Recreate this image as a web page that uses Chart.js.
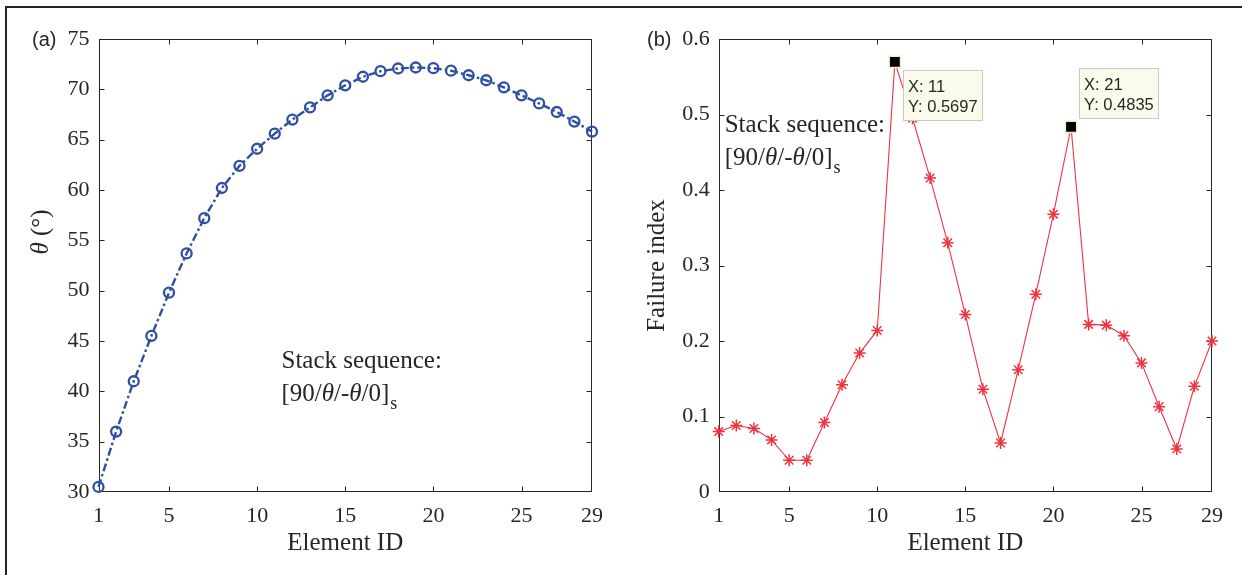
<!DOCTYPE html>
<html><head><meta charset="utf-8">
<script src="https://cdn.jsdelivr.net/npm/chart.js@4.4.1/dist/chart.umd.min.js"></script>
<style>
html,body{margin:0;padding:0;background:#fff;}
body{width:1242px;height:575px;position:relative;overflow:hidden;}
#frame{position:absolute;left:5px;top:6px;width:1300px;height:600px;border-top:2px solid #222;border-left:2px solid #222;}
canvas{position:absolute;top:0;}
#c1{left:0;} #c2{left:620px;}
</style></head><body>
<div id="frame"></div>
<canvas id="c1" width="621" height="575"></canvas>
<canvas id="c2" width="622" height="575"></canvas>
<script>
// ---------- data ----------
const elementIds = [1,2,3,4,5,6,7,8,9,10,11,12,13,14,15,16,17,18,19,20,21,22,23,24,25,26,27,28,29];
const thetaDeg = [30.5,36.0,41.0,45.5,49.8,53.7,57.2,60.2,62.4,64.1,65.6,67.0,68.2,69.4,70.4,71.25,71.8,72.07,72.17,72.1,71.85,71.4,70.9,70.2,69.4,68.6,67.75,66.8,65.8];
const failureIndex = [0.080,0.088,0.084,0.069,0.042,0.042,0.092,0.142,0.184,0.214,0.5697,0.495,0.416,0.330,0.235,0.136,0.065,0.162,0.262,0.368,0.4835,0.222,0.221,0.207,0.171,0.113,0.057,0.140,0.200];
const xTickValues = [1,5,10,15,20,25,29];
const thetaRange = [30,75];
const failureRange = [0,0.6];
const dataTipIds = [11,21];
const panelLabels = ['(a)','(b)'];
const xTitle = 'Element ID';
const stackLine1 = 'Stack sequence:';

const SERIF = "'Liberation Serif','Times New Roman',serif";
const SANS = "'Liberation Sans',Arial,sans-serif";
const INK = '#262626';
const BLUE = '#2f4fa3';
const RED = '#ef3340';

// ---------- plugins ----------
const boxPlugin = {
  id: 'boxTicks',
  beforeDatasetsDraw(chart) {
    const {ctx, chartArea: a, scales: {x, y}} = chart;
    const L = Math.round(a.left) + 0.5, R = Math.round(a.right) - 0.5;
    const T = Math.round(a.top) + 0.5, B = Math.round(a.bottom) - 0.5;
    ctx.save();
    ctx.strokeStyle = INK; ctx.lineWidth = 1;
    ctx.strokeRect(L, T, R - L, B - T);
    ctx.beginPath();
    x.ticks.forEach(t => {
      if (t.value === x.min || t.value === x.max) return;
      const px = Math.round(x.getPixelForValue(t.value)) + 0.5;
      ctx.moveTo(px, B); ctx.lineTo(px, B - 5);
      ctx.moveTo(px, T); ctx.lineTo(px, T + 5);
    });
    y.ticks.forEach(t => {
      if (t.value === y.min || t.value === y.max) return;
      const py = Math.round(y.getPixelForValue(t.value)) + 0.5;
      ctx.moveTo(L, py); ctx.lineTo(L + 5, py);
      ctx.moveTo(R, py); ctx.lineTo(R - 5, py);
    });
    ctx.stroke();
    ctx.restore();
  }
};

function drawStackText(ctx, x, y1) {
  ctx.save();
  ctx.fillStyle = INK;
  ctx.textBaseline = 'alphabetic';
  ctx.textAlign = 'left';
  ctx.font = `25px ${SERIF}`;
  ctx.fillText(stackLine1, x, y1);
  const y2 = y1 + 33;
  const parts = [['[90/', false], ['\u03B8', true], ['/-', false], ['\u03B8', true], ['/0]', false]];
  let cx = x;
  parts.forEach(([s, it]) => {
    ctx.font = `${it ? 'italic ' : ''}25px ${SERIF}`;
    ctx.fillText(s, cx, y2);
    cx += ctx.measureText(s).width;
  });
  ctx.font = `18px ${SERIF}`;
  ctx.fillText('s', cx + 1, y2 + 8);
  ctx.restore();
}

function makeTextPlugin(idx) {
  return {
    id: 'panelText' + idx,
    afterDraw(chart) {
      const {ctx, chartArea: a} = chart;
      ctx.save();
      ctx.fillStyle = INK;
      ctx.font = `20px ${SANS}`;
      ctx.textBaseline = 'middle';
      ctx.textAlign = 'left';
      ctx.fillText(panelLabels[idx], idx === 0 ? 32 : 27, a.top + 1);
      ctx.restore();
      if (idx === 0) {
        drawStackText(ctx, a.left + 183, a.top + 329);
        ctx.save();
        ctx.translate(41, 232);
        ctx.rotate(-Math.PI / 2);
        ctx.fillStyle = INK;
        ctx.textBaseline = 'middle';
        ctx.textAlign = 'left';
        ctx.font = `italic 25px ${SERIF}`;
        const w1 = ctx.measureText('\u03B8').width;
        ctx.font = `25px ${SERIF}`;
        const w2 = ctx.measureText(' (\u00B0)').width;
        const start = -(w1 + w2) / 2;
        ctx.font = `italic 25px ${SERIF}`;
        ctx.fillText('\u03B8', start, 0);
        ctx.font = `25px ${SERIF}`;
        ctx.fillText(' (\u00B0)', start + w1, 0);
        ctx.restore();
      } else {
        drawStackText(ctx, a.left + 6, a.top + 93);
      }
    }
  };
}

const tipPlugin = {
  id: 'dataTips',
  afterDatasetsDraw(chart) {
    const {ctx, scales: {x, y}} = chart;
    dataTipIds.forEach((id, k) => {
      const val = failureIndex[elementIds.indexOf(id)];
      const px = x.getPixelForValue(id), py = y.getPixelForValue(val);
      const w = 80, h = 51;
      const bx = px + 8;
      const by = k === 0 ? py + 8 : py - 8 - h;
      ctx.save();
      ctx.fillStyle = '#fbfbec';
      ctx.strokeStyle = '#c9c9c9';
      ctx.lineWidth = 1;
      ctx.fillRect(Math.round(bx), Math.round(by), w, h);
      ctx.strokeRect(Math.round(bx) + 0.5, Math.round(by) + 0.5, w - 1, h - 1);
      ctx.fillStyle = INK;
      ctx.font = `16.5px ${SANS}`;
      ctx.textBaseline = 'alphabetic';
      ctx.textAlign = 'left';
      ctx.fillText('X: ' + id, bx + 5, by + 22);
      ctx.fillText('Y: ' + val.toFixed(4), bx + 5, by + 42);
      ctx.restore();
    });
  }
};

function xScale() {
  return {
    type: 'linear', min: 1, max: 29,
    afterBuildTicks(s) { s.ticks = xTickValues.map(v => ({value: v})); },
    afterFit(s) { s.height = 83; },
    grid: {display: false, drawTicks: false}, border: {display: false},
    ticks: {autoSkip: false, maxRotation: 0, padding: 11, color: INK, font: {family: SERIF, size: 22}},
    title: {display: true, text: xTitle, color: INK, font: {family: SERIF, size: 25}, padding: {top: 0, bottom: 17}}
  };
}

// ---------- chart (a) ----------
new Chart(document.getElementById('c1'), {
  type: 'line',
  data: {
    datasets: [{
      data: elementIds.map((id, i) => ({x: id, y: thetaDeg[i]})),
      borderColor: BLUE, borderWidth: 2.4, borderDash: [8, 3, 2.5, 3],
      pointStyle: 'circle', pointRadius: 5, pointBorderWidth: 2.3,
      pointBorderColor: BLUE, pointBackgroundColor: 'rgba(0,0,0,0)',
      fill: false, tension: 0, clip: false
    }]
  },
  options: {
    responsive: false, animation: false, devicePixelRatio: 1,
    layout: {padding: {left: 0, top: 39, right: 29, bottom: 0}},
    plugins: {legend: {display: false}, tooltip: {enabled: false}},
    scales: {
      x: xScale(),
      y: {
        type: 'linear', min: thetaRange[0], max: thetaRange[1],
        afterFit(s) { s.width = 98.5; },
        grid: {display: false, drawTicks: false}, border: {display: false},
        ticks: {stepSize: 5, padding: 9, color: INK, font: {family: SERIF, size: 22}}
      }
    }
  },
  plugins: [boxPlugin, makeTextPlugin(0)]
});

// ---------- chart (b) ----------
new Chart(document.getElementById('c2'), {
  type: 'line',
  data: {
    datasets: [{
      data: dataTipIds.map(id => ({x: id, y: failureIndex[elementIds.indexOf(id)]})),
      showLine: false, pointStyle: 'rect', pointRadius: 8,
      pointBackgroundColor: '#000', pointBorderColor: '#eeeec4', pointBorderWidth: 1.5,
      clip: false, order: 1
    }, {
      data: elementIds.map((id, i) => ({x: id, y: failureIndex[i]})),
      borderColor: RED, borderWidth: 1.1,
      pointStyle: 'star', pointRadius: 6, pointBorderWidth: 1.5,
      pointBorderColor: RED, pointBackgroundColor: RED,
      fill: false, tension: 0, clip: false, order: 2
    }]
  },
  options: {
    responsive: false, animation: false, devicePixelRatio: 1,
    layout: {padding: {left: 0, top: 39, right: 30, bottom: 0}},
    plugins: {legend: {display: false}, tooltip: {enabled: false}},
    scales: {
      x: xScale(),
      y: {
        type: 'linear', min: failureRange[0], max: failureRange[1],
        afterFit(s) { s.width = 98.7; },
        grid: {display: false, drawTicks: false}, border: {display: false},
        ticks: {stepSize: 0.1, padding: 9, color: INK, font: {family: SERIF, size: 22}},
        title: {display: true, text: 'Failure index', color: INK, font: {family: SERIF, size: 25}, padding: {top: 22, bottom: 0}}
      }
    }
  },
  plugins: [boxPlugin, makeTextPlugin(1), tipPlugin]
});
</script>
</body></html>
